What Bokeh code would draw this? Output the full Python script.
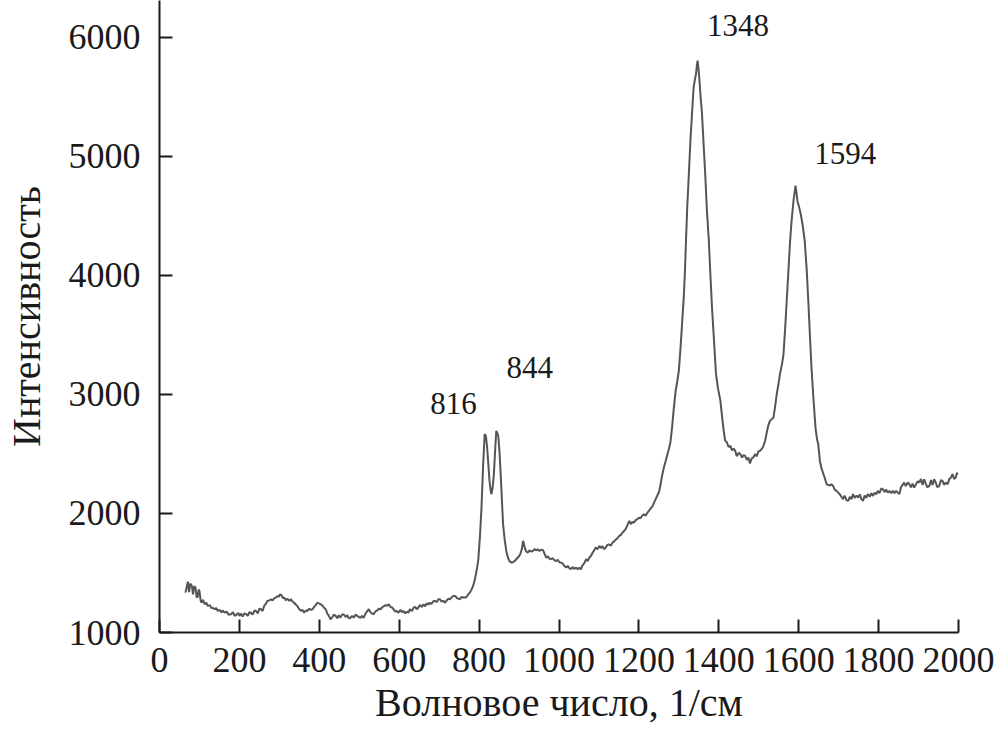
import numpy as np
from bokeh.plotting import figure
from bokeh.models import FixedTicker, Range1d, ColumnDataSource
from bokeh.core.properties import value
from bokeh.embed import file_html
from bokeh.resources import INLINE

# ---- data ----
wavenumber = [
    65, 68, 71, 74, 77, 81, 84, 87, 90, 93, 95, 98, 100, 103, 105, 109, 113, 117, 121, 126,
    130, 133, 138, 142, 146, 150, 155, 159, 163, 168, 173, 179, 184, 188, 192, 197, 200, 204, 208, 212,
    217, 221, 225, 229, 233, 238, 242, 246, 250, 254, 258, 262, 266, 270, 275, 279, 283, 287, 292, 296,
    299, 302, 306, 309, 312, 316, 320, 325, 329, 333, 337, 341, 345, 349, 354, 358, 362, 366, 370, 375,
    379, 383, 387, 391, 395, 399, 404, 408, 412, 416, 420, 424, 428, 432, 436, 441, 445, 449, 453, 457,
    461, 466, 470, 474, 478, 482, 486, 491, 495, 499, 503, 507, 511, 516, 520, 524, 528, 532, 536, 540,
    545, 549, 553, 557, 561, 566, 570, 574, 578, 582, 586, 590, 594, 598, 603, 607, 611, 615, 619, 623,
    627, 632, 636, 640, 644, 648, 652, 657, 661, 665, 669, 673, 677, 681, 686, 690, 694, 698, 702, 706,
    711, 715, 719, 723, 727, 731, 735, 740, 744, 748, 752, 756, 760, 765, 769, 773, 777, 781, 785, 789,
    792, 795, 798, 802, 806, 810, 814, 817, 820, 823, 826, 829, 831, 834, 837, 840, 843, 846, 848, 851,
    854, 857, 860, 864, 868, 872, 876, 881, 885, 889, 893, 897, 900, 903, 907, 910, 912, 914, 918, 922,
    926, 930, 935, 939, 943, 947, 951, 956, 960, 964, 968, 972, 976, 980, 984, 989, 993, 997, 1001, 1005,
    1009, 1013, 1018, 1022, 1026, 1030, 1034, 1038, 1043, 1047, 1051, 1055, 1059, 1063, 1068, 1072, 1076, 1080, 1084, 1088,
    1092, 1097, 1101, 1105, 1109, 1113, 1117, 1121, 1125, 1130, 1134, 1138, 1142, 1146, 1151, 1155, 1159, 1163, 1167, 1171,
    1176, 1180, 1184, 1188, 1192, 1196, 1200, 1204, 1209, 1213, 1217, 1221, 1225, 1229, 1234, 1238, 1242, 1246, 1250, 1254,
    1258, 1262, 1267, 1271, 1275, 1279, 1283, 1287, 1292, 1296, 1300, 1304, 1308, 1312, 1315, 1318, 1321, 1325, 1329, 1333,
    1337, 1340, 1343, 1345, 1347, 1349, 1351, 1354, 1358, 1362, 1366, 1370, 1375, 1379, 1383, 1388, 1393, 1398, 1404, 1408,
    1412, 1416, 1420, 1424, 1429, 1433, 1437, 1441, 1445, 1450, 1454, 1458, 1462, 1466, 1470, 1474, 1478, 1482, 1486, 1491,
    1495, 1499, 1503, 1507, 1511, 1516, 1520, 1524, 1528, 1532, 1537, 1541, 1545, 1549, 1553, 1558, 1562, 1566, 1570, 1574,
    1578, 1582, 1587, 1590, 1592, 1595, 1597, 1599, 1602, 1605, 1610, 1615, 1620, 1624, 1628, 1632, 1637, 1642, 1646, 1649,
    1653, 1657, 1661, 1665, 1670, 1674, 1678, 1682, 1686, 1690, 1695, 1699, 1703, 1707, 1711, 1715, 1720, 1724, 1728, 1732,
    1736, 1740, 1745, 1749, 1753, 1757, 1761, 1765, 1769, 1773, 1778, 1782, 1786, 1790, 1794, 1798, 1802, 1807, 1811, 1815,
    1819, 1823, 1827, 1832, 1836, 1840, 1844, 1848, 1852, 1856, 1860, 1864, 1868, 1873, 1877, 1881, 1885, 1889, 1893, 1898,
    1902, 1906, 1910, 1914, 1918, 1922, 1927, 1931, 1935, 1939, 1943, 1947, 1952, 1956, 1960, 1964, 1968, 1973, 1977, 1981,
    1985, 1989, 1993, 1996, 1999,
]

intensity = [
    1335, 1380, 1427, 1340, 1410, 1391, 1321, 1390, 1377, 1300, 1293, 1360, 1349, 1270, 1250, 1275, 1237, 1250, 1223, 1230,
    1205, 1208, 1195, 1205, 1181, 1190, 1170, 1185, 1166, 1175, 1150, 1153, 1170, 1140, 1147, 1165, 1140, 1158, 1135, 1160,
    1153, 1140, 1170, 1166, 1150, 1185, 1181, 1160, 1200, 1195, 1180, 1223, 1240, 1265, 1270, 1279, 1270, 1287, 1295, 1307,
    1300, 1321, 1310, 1290, 1293, 1270, 1285, 1265, 1279, 1260, 1250, 1235, 1223, 1200, 1181, 1190, 1166, 1185, 1181, 1200,
    1190, 1195, 1215, 1230, 1250, 1245, 1237, 1225, 1208, 1195, 1160, 1140, 1111, 1125, 1150, 1139, 1120, 1145, 1125, 1150,
    1153, 1130, 1145, 1120, 1124, 1140, 1125, 1150, 1139, 1130, 1124, 1140, 1124, 1160, 1180, 1195, 1170, 1160, 1153, 1175,
    1185, 1200, 1195, 1210, 1220, 1230, 1225, 1237, 1215, 1210, 1195, 1175, 1181, 1166, 1190, 1170, 1181, 1160, 1175, 1166,
    1195, 1180, 1208, 1215, 1195, 1210, 1230, 1215, 1237, 1220, 1245, 1235, 1250, 1240, 1265, 1265, 1255, 1280, 1279, 1260,
    1265, 1250, 1270, 1285, 1279, 1295, 1307, 1307, 1290, 1285, 1279, 1300, 1293, 1293, 1300, 1321, 1335, 1360, 1391, 1440,
    1489, 1545, 1610, 1800, 2049, 2400, 2666, 2650, 2560, 2420, 2273, 2190, 2162, 2220, 2330, 2520, 2694, 2670, 2652, 2520,
    2330, 2120, 1910, 1780, 1685, 1630, 1600, 1587, 1590, 1600, 1615, 1630, 1640, 1657, 1700, 1769, 1750, 1713, 1680, 1671,
    1690, 1680, 1685, 1700, 1690, 1699, 1685, 1695, 1691, 1660, 1629, 1640, 1620, 1615, 1625, 1605, 1601, 1610, 1590, 1587,
    1580, 1560, 1545, 1560, 1540, 1531, 1550, 1535, 1545, 1530, 1545, 1531, 1565, 1580, 1615, 1600, 1630, 1643, 1670, 1690,
    1713, 1700, 1727, 1710, 1725, 1700, 1713, 1735, 1740, 1730, 1755, 1765, 1780, 1790, 1811, 1820, 1840, 1853, 1870, 1900,
    1937, 1910, 1930, 1923, 1945, 1950, 1965, 1960, 1985, 1993, 1980, 2005, 2021, 2040, 2060, 2091, 2120, 2150, 2175, 2240,
    2315, 2380, 2440, 2490, 2540, 2600, 2721, 2870, 3030, 3110, 3198, 3380, 3590, 3800, 4011, 4300, 4571, 4850, 5131, 5360,
    5579, 5640, 5692, 5760, 5803, 5740, 5663, 5520, 5355, 5100, 4851, 4560, 4291, 4000, 3730, 3450, 3170, 3050, 2946, 2820,
    2700, 2610, 2600, 2560, 2568, 2530, 2545, 2526, 2480, 2510, 2498, 2470, 2490, 2483, 2450, 2470, 2420, 2460, 2470, 2498,
    2480, 2520, 2526, 2540, 2560, 2610, 2680, 2740, 2778, 2790, 2806, 2900, 3002, 3080, 3170, 3250, 3338, 3550, 3786, 4020,
    4263, 4450, 4627, 4700, 4753, 4680, 4620, 4599, 4560, 4515, 4420, 4291, 4050, 3786, 3500, 3226, 2960, 2721, 2620, 2582,
    2441, 2380, 2340, 2300, 2245, 2240, 2235, 2245, 2231, 2200, 2190, 2175, 2160, 2140, 2120, 2150, 2110, 2105, 2140, 2120,
    2162, 2130, 2150, 2133, 2160, 2120, 2105, 2150, 2130, 2162, 2140, 2170, 2147, 2175, 2160, 2189, 2170, 2210, 2203, 2180,
    2200, 2175, 2190, 2170, 2189, 2170, 2190, 2175, 2162, 2220, 2240, 2259, 2230, 2260, 2245, 2220, 2250, 2217, 2240, 2270,
    2259, 2290, 2240, 2287, 2250, 2220, 2231, 2280, 2240, 2287, 2260, 2220, 2231, 2280, 2273, 2240, 2260, 2245, 2290, 2300,
    2330, 2290, 2301, 2340, 2330,
]

peak_labels = [816, 844, 1348, 1594]
x_ticks = [0, 200, 400, 600, 800, 1000, 1200, 1400, 1600, 1800, 2000]
y_ticks = [1000, 2000, 3000, 4000, 5000, 6000]

FONT = "Liberation Serif"

p = figure(width=999, height=735, output_backend="svg", toolbar_location=None,
           x_range=Range1d(0, 2000), y_range=Range1d(1000, 6308),
           min_border_left=155, min_border_right=41, min_border_top=0, min_border_bottom=103)
p.outline_line_color = None
p.grid.visible = False
p.background_fill_color = "white"
p.border_fill_color = "white"

p.line(wavenumber, intensity, line_color="#555555", line_width=2)

# peak annotations anchored to peak maxima
wn = np.array(wavenumber)
it = np.array(intensity)
anchor_y = []
for pk in peak_labels:
    m = np.abs(wn - pk) <= 6
    anchor_y.append(float(it[m].max()))
offs_x = [-32, 33, 40, 49]
offs_y = [-31, -63, -35, -32]
src = ColumnDataSource(dict(x=peak_labels, y=anchor_y, t=[str(v) for v in peak_labels],
                            dx=offs_x, dy=offs_y))
p.text(x="x", y="y", text="t", x_offset="dx", y_offset="dy", source=src,
       text_font=value(FONT), text_font_size="31px", text_color="#1a1a1a",
       text_align="center", text_baseline="middle")

for ax in (p.xaxis[0], p.yaxis[0]):
    ax.axis_line_width = 2
    ax.axis_line_color = "#1a1a1a"
    ax.major_tick_line_width = 2
    ax.major_tick_line_color = "#1a1a1a"
    ax.major_tick_in = 13
    ax.major_tick_out = 0
    ax.minor_tick_line_color = None
    ax.major_label_text_font = FONT
    ax.major_label_text_font_size = "36px"
    ax.major_label_text_color = "#1a1a1a"
    ax.axis_label_text_font = FONT
    ax.axis_label_text_font_style = "normal"
    ax.axis_label_text_font_size = "40px"
    ax.axis_label_text_color = "#1a1a1a"

p.xaxis.ticker = FixedTicker(ticks=x_ticks)
p.yaxis.ticker = FixedTicker(ticks=y_ticks)
p.xaxis.axis_label = "Волновое число, 1/см"
p.yaxis.axis_label = "Интенсивность"
p.xaxis.major_label_standoff = 15
p.yaxis.major_label_standoff = 19
p.xaxis.axis_label_standoff = 5
p.yaxis.axis_label_standoff = 17

open("out.html", "w").write(file_html(p, INLINE))
